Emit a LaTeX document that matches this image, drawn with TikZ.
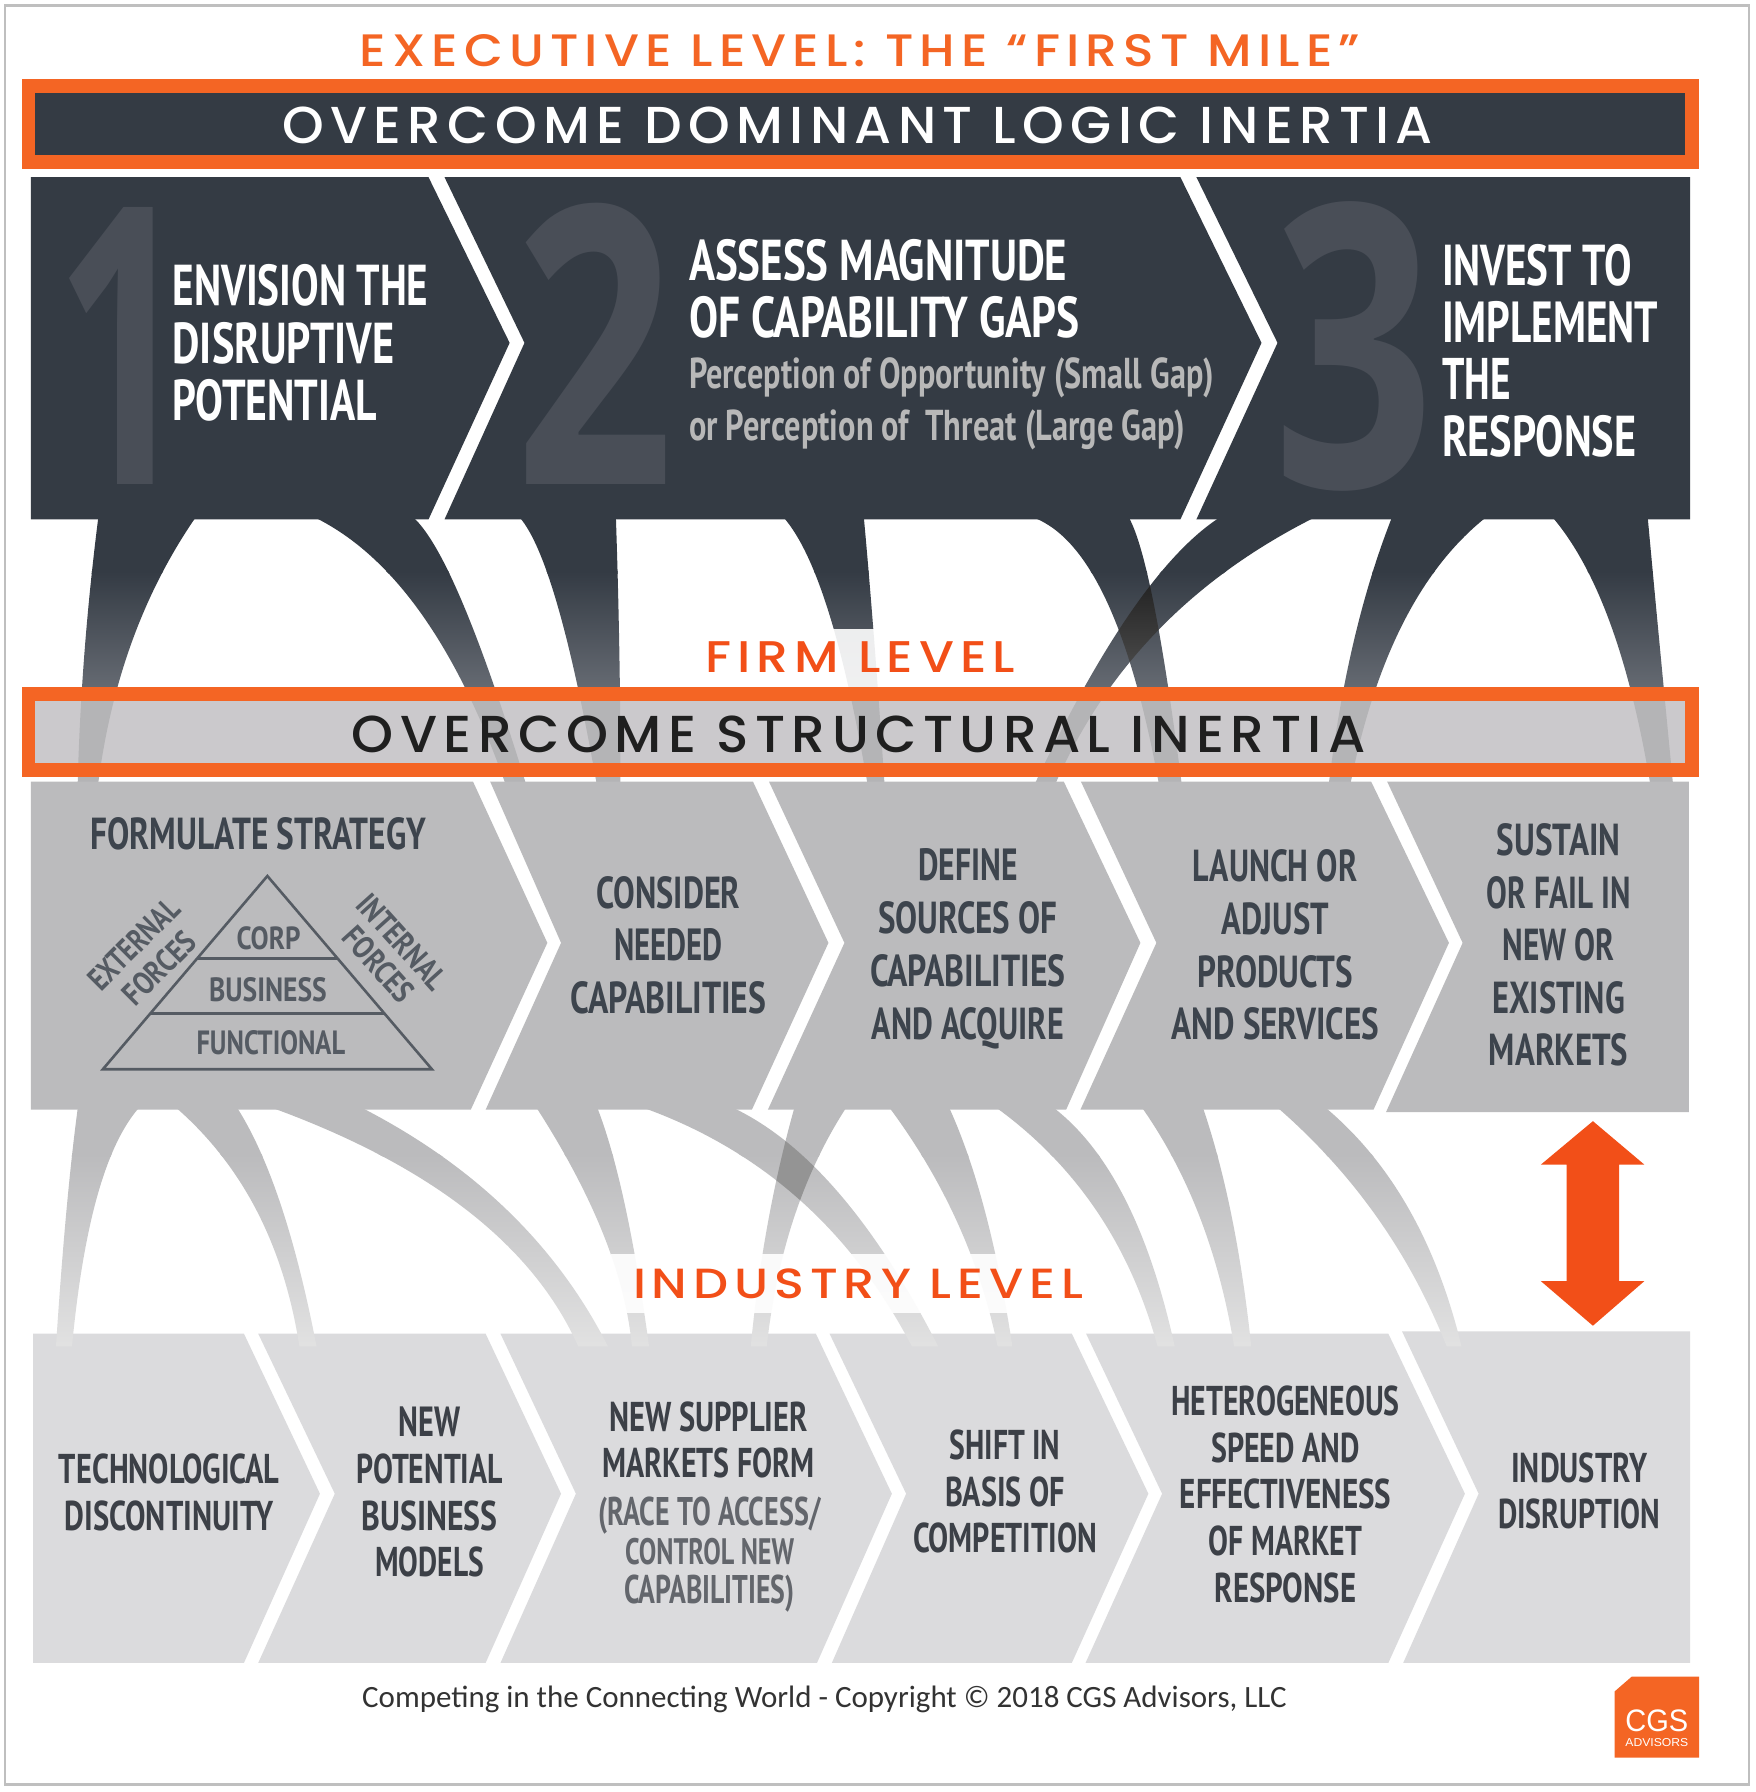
\documentclass[tikz,border=0pt]{standalone}
\usepackage{fontspec}
\usepackage{graphicx}
\usetikzlibrary{calc}
\newfontfamily\cn{PT Sans}
\newfontfamily\hd[LetterSpace=12]{Poppins Medium}
\newfontfamily\ftfont{Carlito}
\newfontfamily\lgfont{Liberation Sans}
\newfontfamily\nmfont{Open Sans}
\newlength\uu \setlength\uu{0.5713pt}
\newcommand\tl[3]{\resizebox{#1\uu}{#2\uu}{#3}}
\newcommand\ls[1]{\fontsize{10pt}{\the\dimexpr#1\uu\relax}\selectfont}
\definecolor{dk}{HTML}{343B44}
\definecolor{dkb}{HTML}{656A72}
\definecolor{num}{HTML}{494E57}
\definecolor{org}{HTML}{F46524}
\definecolor{redo}{HTML}{F24F18}
\definecolor{bandc}{HTML}{CBC9CC}
\definecolor{bandf}{HTML}{B4B4B6}
\definecolor{rowb}{HTML}{BBBBBD}
\definecolor{rowc}{HTML}{DBDBDD}
\definecolor{lowe}{HTML}{E2E2E2}
\definecolor{txb}{HTML}{3D444D}
\definecolor{txc}{HTML}{3C4047}
\definecolor{pyr}{HTML}{555B63}
\tikzset{
 cblock/.style={inner sep=0pt,outer sep=0pt,align=center,font={\ls{#1}\cn\bfseries}},
 lblock/.style={inner sep=0pt,outer sep=0pt,align=left,anchor=west,font={\ls{#1}\cn\bfseries}},
 numeral/.style={inner sep=0pt,outer sep=0pt,text=num,font={\nmfont\bfseries}},
 hdtext/.style={inner sep=0pt,outer sep=0pt,font={\fontsize{10pt}{12pt}\selectfont\hd}},
 frame/.style={draw=org,line width=6.85pt}
}
% one quadratic edge from a through m to b, written as a cubic
\def\qe#1#2#3{(#1) .. controls ($1.3333*(#2)-0.3333*(#3)$) and ($1.3333*(#2)-0.3333*(#1)$) .. (#3)}
\def\mk#1#2#3#4#5#6{\qe{#1}{#2}{#3} -- \qe{#4}{#5}{#6} -- cycle}
\def\topA{\mk{86,453}{74,570}{68,685}{86,685}{116,560}{171,453}}
\def\topB{\mk{276,453}{368,536}{442,685}{460,685}{405,528}{362,453}}
\def\topC{\mk{455,453}{488,530}{522,685}{543,685}{542,570}{539,453}}
\def\topD{\mk{686,453}{725,535}{759,685}{774,685}{765,560}{756,453}}
\def\topE{\mk{905,453}{968,525}{1014,685}{1034,685}{1010,530}{988,453}}
\def\topF{\mk{1067,453}{990,535}{906,685}{924,685}{1014,551}{1150,453}}
\def\topG{\mk{1218,453}{1185,560}{1163,685}{1182,685}{1228,545}{1300,453}}
\def\topH{\mk{1359,453}{1409,545}{1444,685}{1464,685}{1452,560}{1442,453}}
\def\lowA{\mk{68,970}{58,1061}{49,1178}{63,1178}{85,1047}{121,970}}
\def\lowB{\mk{155,970}{225,1060}{262,1178}{277,1178}{246,1055}{208,970}}
\def\lowC{\mk{240,970}{410,1060}{506,1178}{532,1178}{445,1060}{318,970}}
\def\lowD{\mk{470,970}{528,1080}{553,1178}{568,1178}{547,1055}{523,970}}
\def\lowE{\mk{565,970}{700,1050}{798,1178}{821,1178}{735,1045}{643,970}}
\def\lowF{\mk{695,970}{672,1070}{657,1178}{671,1178}{695,1065}{740,970}}
\def\lowG{\mk{779,970}{838,1070}{873,1178}{886,1178}{862,1060}{831,970}}
\def\lowH{\mk{873,970}{960,1060}{1013,1178}{1028,1178}{985,1050}{923,970}}
\def\lowI{\mk{1000,970}{1050,1065}{1080,1178}{1095,1178}{1078,1065}{1053,970}}
\def\lowJ{\mk{1119,970}{1205,1065}{1266,1178}{1279,1178}{1233,1058}{1161,970}}
\begin{document}
\begin{tikzpicture}[x=0.5713pt,y=-0.5714pt]
\useasboundingbox (0,0) rectangle (1536,1568);
\fill[white] (0,0) rectangle (1536,1568);
\draw[draw=black!25,line width=1.3pt] (4.5,5) rectangle (1530.5,1561.5);

% upper funnels
\foreach \f in {\topA,\topB,\topC,\topD,\topE,\topF,\topG,\topH}{
 \begin{scope}
  \clip \f;
  \fill[dk] (0,450) rectangle (1536,502);
  \shade[top color=dk,bottom color=dkb] (0,500) rectangle (1536,602);
 \end{scope}
}
\begin{scope}
 \clip \topE; \clip \topF;
 \shade[top color=black!88,bottom color=black!68] (0,500) rectangle (1536,602);
\end{scope}
\fill[white,opacity=0.9] (610,550) rectangle (895,601);

% dark chevrons
\fill[dk] (27,155) -- (375,155) -- (446,300) -- (375,454.5) -- (27,454.5) -- cycle;
\fill[dk] (389,155) -- (1033,155) -- (1104,300) -- (1033,454.5) -- (389,454.5) -- (459,300) -- cycle;
\fill[dk] (1047,155) -- (1479,155) -- (1479,454.5) -- (1047,454.5) -- (1118,300) -- cycle;

% bands
\fill[dk] (25,75) rectangle (1480.5,142);
\fill[bandc] (25,607) rectangle (1480.5,674);
\begin{scope}
 \clip (25,607) rectangle (1480.5,674);
 \foreach \f in {\topA,\topB,\topC,\topD,\topE,\topF,\topG,\topH}{\fill[bandf] \f;}
\end{scope}
\begin{scope}
 \clip (0,680) rectangle (1536,686);
 \foreach \f in {\topA,\topB,\topC,\topD,\topE,\topF,\topG,\topH}{\fill[bandf] \f;}
\end{scope}
\draw[frame] (25,75) rectangle (1480.5,142);
\draw[frame] (25,607) rectangle (1480.5,674);

% row 3 (below funnels)
\fill[rowc] (29,1167) -- (213.5,1167) -- (280,1307) -- (213.5,1455) -- (29,1455) -- cycle;
\fill[rowc] (226,1167) -- (425,1167) -- (491,1307) -- (425,1455) -- (226,1455) -- (293,1307) -- cycle;
\fill[rowc] (438,1167) -- (714,1167) -- (780.5,1307) -- (715,1455) -- (438,1455) -- (504,1307) -- cycle;
\fill[rowc] (726,1167) -- (938,1167) -- (1005,1307) -- (938,1455) -- (728,1455) -- (793,1307) -- cycle;
\fill[rowc] (950.5,1167) -- (1215,1167) -- (1282,1307) -- (1215,1455) -- (950,1455) -- (1017,1307) -- cycle;
\fill[rowc] (1227,1165) -- (1479,1165) -- (1479,1455) -- (1228,1455) -- (1294,1307) -- cycle;

% lower funnels
\foreach \f in {\lowA,\lowB,\lowC,\lowD,\lowE,\lowF,\lowG,\lowH,\lowI,\lowJ}{
 \begin{scope}
  \clip \f;
  \fill[rowb] (0,965) rectangle (1536,1012);
  \shade[top color=rowb,bottom color=lowe] (0,1010) rectangle (1536,1180);
 \end{scope}
}
\begin{scope}
 \clip \lowE; \clip \lowF;
 \fill[black!42] (0,960) rectangle (1536,1100);
\end{scope}
\fill[white,opacity=0.9] (535,1097) rectangle (886,1149);

% row 2
\fill[rowb] (27,684) -- (414,684) -- (479,825) -- (412,971) -- (27,971) -- cycle;
\fill[rowb] (429,684) -- (659,684) -- (725,825) -- (658,971) -- (425,971) -- (491,825) -- cycle;
\fill[rowb] (673,684) -- (931,684) -- (998,825) -- (933,971) -- (672,971) -- (739,825) -- cycle;
\fill[rowb] (946,684) -- (1200,684) -- (1268,825) -- (1202,971) -- (945.5,971) -- (1012,825) -- cycle;
\fill[rowb] (1214,684) -- (1478,684) -- (1478,973) -- (1213,973) -- (1280,825) -- cycle;

% double arrow
\fill[redo] (1394,981) -- (1439,1019) -- (1417,1019) -- (1417,1121) -- (1439,1121) -- (1394,1160) -- (1348.5,1121) -- (1371,1121) -- (1371,1019) -- (1348.5,1019) -- cycle;

% pyramid
\draw[pyr,line width=1.3pt,line join=miter] (234,766.5) -- (378,935.6) -- (90,935.6) -- cycle;
\draw[pyr,line width=1.5pt] (172,839) -- (296,839);
\draw[pyr,line width=1.3pt] (131,887) -- (337,887);

% logo
\fill[org] (1428,1467) -- (1487,1467) -- (1487,1538) -- (1413,1538) -- (1413,1480) -- cycle;
\node[inner sep=0pt,white,font=\lgfont] (logoA) at (1450,1505.5) {\tl{55}{19}{CGS}};
\node[inner sep=0pt,white,font=\lgfont] (logoB) at (1450,1524.5) {\tl{55}{7}{ADVISORS}};

% headings
\node[hdtext,text=org] (exec) at (752.5,44) {\tl{875}{28}{EXECUTIVE LEVEL: THE “FIRST MILE”}};
\node[hdtext,text=white] (dom) at (750.5,110) {\tl{1007}{32}{OVERCOME DOMINANT LOGIC INERTIA}};
\node[hdtext,text=redo] (firm) at (753,575) {\tl{271}{27}{FIRM LEVEL}};
\node[hdtext,text=black!88] (struct) at (751.5,643) {\tl{887}{32}{OVERCOME STRUCTURAL INERTIA}};
\node[hdtext,text=redo] (ind) at (751,1123) {\tl{394}{26}{INDUSTRY LEVEL}};

% numerals
\node[numeral] (n1) at (107.5,302.5) {\tl{118}{242}{1}};
\node[numeral] (n2) at (521,301) {\tl{139}{246}{2}};
\node[numeral] (n3) at (1185,303) {\tl{141}{250}{3}};

% dark row
\node[lblock=50,text=white] (s1) at (151,300) {\tl{224}{36}{ENVISION THE}\\\tl{194}{36}{DISRUPTIVE}\\\tl{179}{36}{POTENTIAL}};
\node[lblock=50,text=white] (s2) at (603,253) {\tl{331}{36}{ASSESS MAGNITUDE}\\\tl{342}{36}{OF CAPABILITY GAPS}};
\node[lblock=45,text=black!28] (s2b) at (603,353.5) {\tl{459}{27}{Perception of Opportunity (Small Gap)}\\\tl{434}{27}{or Perception of \ Threat (Large Gap)}};
\node[lblock=50,text=white] (s3) at (1262,307) {\tl{166}{36}{INVEST TO}\\\tl{189}{36}{IMPLEMENT}\\\tl{60}{36}{THE}\\\tl{170}{36}{RESPONSE}};

% middle row
\node[cblock=46,text=txb] (m0) at (226,730) {\tl{294}{28}{FORMULATE STRATEGY}};
\node[cblock=46,text=pyr] (p1) at (235,821) {\tl{56}{20}{CORP}};
\node[cblock=46,text=pyr] (p2) at (234.5,866) {\tl{103}{21}{BUSINESS}};
\node[cblock=46,text=pyr] (p3) at (237,912) {\tl{130}{21}{FUNCTIONAL}};
\node[cblock=46,text=pyr,rotate=45] (p4) at (117,826) {\tl{100}{20}{EXTERNAL}};
\node[cblock=46,text=pyr,rotate=45] (p5) at (139.5,847) {\tl{78}{20}{FORCES}};
\node[cblock=46,text=pyr,rotate=-48] (p6) at (352,824) {\tl{102}{20}{INTERNAL}};
\node[cblock=46,text=pyr,rotate=-48] (p7) at (331,844) {\tl{78}{20}{FORCES}};
\node[cblock=46,text=txb] (m1) at (585,827) {\tl{126}{28}{CONSIDER}\\\tl{95}{28}{NEEDED}\\\tl{171}{28}{CAPABILITIES}};
\node[cblock=46.3,text=txb] (m2) at (847,830.5) {\tl{87}{28}{DEFINE}\\\tl{157}{28}{SOURCES OF}\\\tl{171}{28}{CAPABILITIES}\\\tl{168}{28}{AND ACQUIRE}};
\node[cblock=46,text=txb] (m3) at (1116,827) {\tl{144}{28}{LAUNCH OR}\\\tl{94}{28}{ADJUST}\\\tl{136}{28}{PRODUCTS}\\\tl{182}{28}{AND SERVICES}};
\node[cblock=46,text=txb] (m4) at (1364,827) {\tl{108}{28}{SUSTAIN}\\\tl{126}{28}{OR FAIL IN}\\\tl{98}{28}{NEW OR}\\\tl{116}{28}{EXISTING}\\\tl{122}{28}{MARKETS}};

% bottom row
\node[cblock=41,text=txc] (b1) at (148,1305.5) {\tl{193}{26}{TECHNOLOGICAL}\\\tl{183}{26}{DISCONTINUITY}};
\node[cblock=41,text=txc] (b2) at (376,1305.5) {\tl{54}{26}{NEW}\\\tl{128}{26}{POTENTIAL}\\\tl{119}{26}{BUSINESS}\\\tl{95}{26}{MODELS}};
\node[cblock=40,text=txc] (b3) at (620,1260) {\tl{174}{26}{NEW SUPPLIER}\\\tl{186}{26}{MARKETS FORM}};
\node[cblock=34,text=txc!80] (b3b) at (621,1360) {\tl{194}{25}{(RACE TO ACCESS/}\\\tl{148}{23}{CONTROL NEW}\\\tl{149}{25}{CAPABILITIES)}};
\node[cblock=41,text=txc] (b4) at (879.5,1305) {\tl{97}{26}{SHIFT IN}\\\tl{105}{26}{BASIS OF}\\\tl{161}{26}{COMPETITION}};
\node[cblock=40.8,text=txc] (b5) at (1125,1307.5) {\tl{200}{26}{HETEROGENEOUS}\\\tl{130}{26}{SPEED AND}\\\tl{185}{26}{EFFECTIVENESS}\\\tl{134}{26}{OF MARKET}\\\tl{124}{26}{RESPONSE}};
\node[cblock=41,text=txc] (b6) at (1382,1304.5) {\tl{119}{26}{INDUSTRY}\\\tl{142}{26}{DISRUPTION}};

% footer
\node[inner sep=0pt,text=black!80,font=\ftfont] (foot) at (721.5,1487) {\resizebox{809\uu}{!}{Competing in the Connecting World - Copyright © 2018 CGS Advisors, LLC}};
\end{tikzpicture}
\end{document}
